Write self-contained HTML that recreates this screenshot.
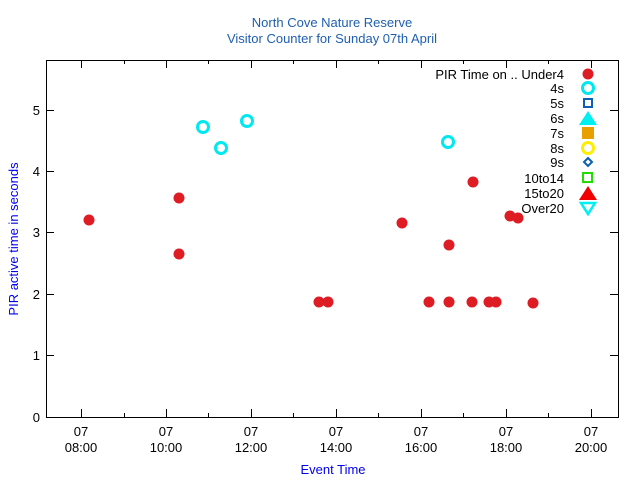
<!DOCTYPE html>
<html><head><style>body{margin:0;background:#fff}svg{display:block}</style></head><body>
<svg width="640" height="480" xmlns="http://www.w3.org/2000/svg" font-family="Liberation Sans, sans-serif" font-size="13">
<rect width="640" height="480" fill="#fff"/>
<text x="332" y="27" text-anchor="middle" fill="#1f5fb0" font-size="13">North Cove Nature Reserve</text>
<text x="332" y="43" text-anchor="middle" fill="#1f5fb0" font-size="13">Visitor Counter for Sunday 07th April</text>
<g stroke="#000" stroke-width="1" fill="none">
<rect x="46.5" y="60.5" width="572" height="357"/>
<path d="M46 355.5h8M46 294.5h8M46 232.5h8M46 171.5h8M46 110.5h8M618 355.5h-8M618 294.5h-8M618 232.5h-8M618 171.5h-8M618 110.5h-8"/>
<path d="M81.5 417v-8M166.5 417v-8M251.5 417v-8M336.5 417v-8M421.5 417v-8M506.5 417v-8M591.5 417v-8M81.5 60v8M166.5 60v8M251.5 60v8M336.5 60v8M421.5 60v8M506.5 60v8M591.5 60v8"/>
<path d="M124.5 417v-4M208.5 417v-4M293.5 417v-4M378.5 417v-4M463.5 417v-4M548.5 417v-4M124.5 60v4M208.5 60v4M293.5 60v4M378.5 60v4M463.5 60v4M548.5 60v4"/>
</g>
<g text-anchor="end" fill="#000">
<text x="40" y="422">0</text><text x="40" y="360">1</text><text x="40" y="299">2</text><text x="40" y="237">3</text><text x="40" y="176">4</text><text x="40" y="115">5</text>
</g>
<g text-anchor="middle" fill="#000">
<text x="81" y="436">07</text><text x="81" y="452">08:00</text>
<text x="166" y="436">07</text><text x="166" y="452">10:00</text>
<text x="251" y="436">07</text><text x="251" y="452">12:00</text>
<text x="336" y="436">07</text><text x="336" y="452">14:00</text>
<text x="421" y="436">07</text><text x="421" y="452">16:00</text>
<text x="506" y="436">07</text><text x="506" y="452">18:00</text>
<text x="591" y="436">07</text><text x="591" y="452">20:00</text>
</g>
<text x="333" y="474" text-anchor="middle" fill="#0000ee">Event Time</text>
<text transform="translate(18,239) rotate(-90)" text-anchor="middle" fill="#0000ee">PIR active time in seconds</text>
<g fill="#dd1c24">
<circle cx="89" cy="220" r="5.5"/><circle cx="179" cy="198" r="5.5"/><circle cx="179" cy="254" r="5.5"/>
<circle cx="319" cy="302" r="5.5"/><circle cx="328" cy="302" r="5.5"/><circle cx="402" cy="223" r="5.5"/>
<circle cx="429" cy="302" r="5.5"/><circle cx="449" cy="245" r="5.5"/><circle cx="449" cy="302" r="5.5"/>
<circle cx="472" cy="302" r="5.5"/><circle cx="473" cy="182" r="5.5"/><circle cx="489" cy="302" r="5.5"/>
<circle cx="496" cy="302" r="5.5"/><circle cx="510" cy="216" r="5.5"/><circle cx="518" cy="218" r="5.5"/>
<circle cx="533" cy="303" r="5.5"/>
<circle cx="588" cy="74" r="5.5"/>
</g>
<g fill="none" stroke="#00e8f0" stroke-width="3">
<circle cx="203" cy="127" r="5.5"/><circle cx="221" cy="148" r="5.5"/><circle cx="247" cy="121" r="5.5"/><circle cx="448" cy="142" r="5.5"/>
<circle cx="588" cy="88" r="5.5"/>
</g>
<g text-anchor="end" fill="#000">
<text x="564" y="79">PIR Time on .. Under4</text><text x="564" y="93">4s</text><text x="564" y="108">5s</text>
<text x="564" y="123">6s</text><text x="564" y="138">7s</text><text x="564" y="153">8s</text>
<text x="564" y="167">9s</text><text x="564" y="183">10to14</text><text x="564" y="198">15to20</text><text x="564" y="213">Over20</text>
</g>
<rect x="584" y="99" width="8" height="8" fill="none" stroke="#0b5fb5" stroke-width="2"/>
<polygon points="588,111 597,125 579,125" fill="#00f0f0"/>
<rect x="582" y="127" width="12" height="12" fill="#e8a000"/>
<circle cx="588" cy="148" r="5.5" fill="none" stroke="#ffee00" stroke-width="3"/>
<polygon points="588,158 592,162 588,166 584,162" fill="none" stroke="#0b5fb5" stroke-width="2"/>
<rect x="583" y="173" width="9" height="9" fill="none" stroke="#22dd00" stroke-width="2"/>
<polygon points="588,186 597,200 579,200" fill="#f00000"/>
<polygon points="581,203 595,203 588,214" fill="none" stroke="#00f0f0" stroke-width="2.5"/>
</svg>
</body></html>
